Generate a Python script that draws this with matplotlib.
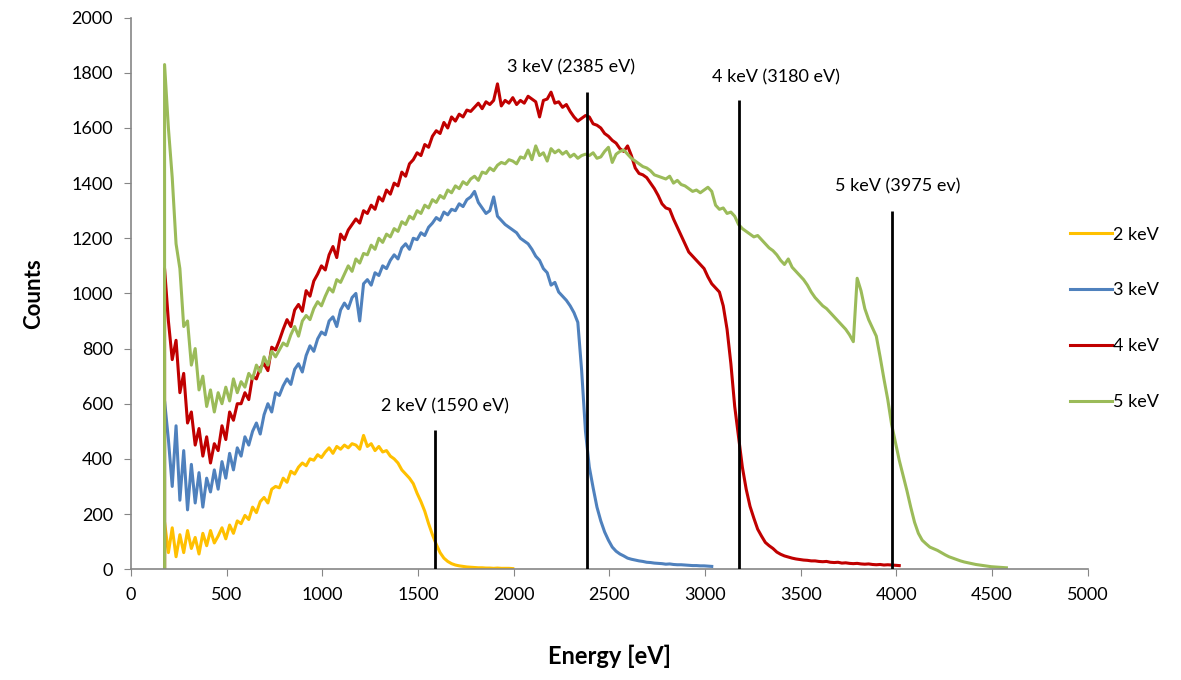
import numpy as np
import matplotlib
matplotlib.use("Agg")
import matplotlib.pyplot as plt

plt.rcParams["font.family"] = ["Lato", "DejaVu Sans"]

# ---------- Data (20 eV channels from 175 eV) ----------
STEP = 20
START = 175

counts_2kev = [
    170, 60, 150, 45, 125, 60, 140, 75, 115, 55,
    130, 85, 140, 95, 120, 150, 110, 160, 130, 175,
    165, 195, 180, 225, 205, 245, 260, 240, 290, 300,
    295, 330, 315, 355, 345, 370, 385, 375, 400, 395,
    415, 405, 425, 440, 420, 445, 435, 450, 440, 455,
    450, 435, 485, 445, 455, 430, 445, 425, 430, 410,
    400, 385, 360, 345, 330, 310, 275, 245, 210, 165,
    125, 90, 60, 40, 28, 20, 15, 12, 10, 8,
    7, 6, 5, 5, 4, 4, 3, 4, 3, 3,
    3, 2,
]

counts_3kev = [
    610, 470, 300, 520, 250, 430, 215, 380, 240, 350,
    225, 330, 280, 360, 290, 390, 330, 420, 360, 440,
    410, 480, 450, 500, 530, 490, 560, 600, 570, 640,
    630, 665, 690, 670, 725, 745, 715, 775, 810, 790,
    835, 860, 850, 900, 915, 880, 940, 965, 945, 985,
    1000, 900, 1035, 1050, 1030, 1075, 1065, 1100, 1090, 1120,
    1140, 1125, 1165, 1180, 1160, 1200, 1195, 1220, 1210, 1240,
    1255, 1275, 1265, 1295, 1285, 1305, 1300, 1325, 1315, 1340,
    1350, 1370, 1330, 1310, 1290, 1300, 1350, 1280, 1265, 1250,
    1240, 1230, 1220, 1200, 1190, 1180, 1160, 1135, 1120, 1090,
    1075, 1030, 1040, 1005, 990, 975, 955, 930, 895, 720,
    500, 370, 295, 225, 175, 135, 105, 80, 65, 55,
    48, 40, 36, 33, 30, 28, 25, 24, 22, 21,
    20, 18, 19, 17, 16, 16, 15, 14, 13, 13,
    12, 12, 11, 10,
]

counts_4kev = [
    1090, 900, 760, 830, 640, 710, 530, 570, 450, 510,
    410, 480, 385, 455, 430, 520, 470, 570, 540, 600,
    600, 640, 615, 700, 690, 730, 745, 720, 805, 795,
    830, 870, 905, 880, 940, 960, 935, 1010, 990, 1045,
    1070, 1100, 1085, 1140, 1170, 1130, 1215, 1195, 1230, 1250,
    1270, 1255, 1300, 1290, 1320, 1305, 1350, 1335, 1375, 1360,
    1400, 1390, 1440, 1425, 1470, 1485, 1510, 1500, 1540, 1530,
    1570, 1590, 1580, 1620, 1600, 1640, 1625, 1650, 1640, 1665,
    1660, 1675, 1690, 1670, 1695, 1685, 1700, 1760, 1680, 1700,
    1690, 1710, 1685, 1700, 1690, 1715, 1705, 1695, 1640, 1700,
    1705, 1730, 1690, 1695, 1675, 1685, 1660, 1640, 1625, 1635,
    1645, 1640, 1615, 1610, 1600, 1580, 1570, 1555, 1545, 1525,
    1515, 1535, 1500, 1455, 1435, 1430, 1420, 1400, 1380, 1355,
    1325, 1310, 1305, 1270, 1240, 1210, 1180, 1150, 1135, 1120,
    1105, 1090, 1060, 1035, 1020, 1005, 955, 870, 745, 590,
    480, 370, 290, 228, 185, 145, 120, 97, 85, 75,
    62, 54, 48, 44, 40, 37, 35, 33, 32, 30,
    30, 28, 27, 28, 25, 24, 25, 22, 23, 21,
    20, 21, 19, 18, 19, 17, 16, 17, 15, 16,
    15, 14, 13,
]

counts_5kev = [
    1830, 1600, 1420, 1180, 1090, 880, 900, 740, 800, 650,
    700, 590, 650, 570, 640, 600, 660, 610, 690, 640,
    680, 660, 710, 690, 740, 715, 770, 740, 790, 770,
    795, 820, 810, 850, 880, 845, 900, 920, 905, 945,
    970, 955, 990, 1020, 1005, 1050, 1040, 1070, 1100, 1080,
    1125, 1110, 1145, 1140, 1175, 1160, 1200, 1185, 1215, 1205,
    1235, 1225, 1260, 1250, 1280, 1270, 1300, 1290, 1320, 1310,
    1340, 1330, 1355, 1345, 1375, 1365, 1390, 1380, 1405, 1395,
    1415, 1425, 1410, 1440, 1435, 1455, 1445, 1465, 1475, 1470,
    1485, 1480, 1470, 1495, 1490, 1520, 1485, 1535, 1500, 1510,
    1480, 1525, 1510, 1520, 1505, 1515, 1495, 1505, 1490, 1500,
    1505, 1500, 1510, 1490, 1495, 1515, 1530, 1475, 1505, 1515,
    1520, 1505, 1490, 1480, 1470, 1460, 1455, 1445, 1430, 1425,
    1420, 1415, 1425, 1400, 1410, 1395, 1390, 1380, 1370, 1375,
    1365, 1375, 1385, 1370, 1320, 1305, 1310, 1290, 1295, 1280,
    1250, 1235, 1225, 1215, 1205, 1210, 1195, 1180, 1165, 1155,
    1140, 1120, 1105, 1125, 1095, 1080, 1065, 1050, 1030, 1005,
    985, 970, 955, 945, 930, 915, 900, 885, 870, 850,
    825, 1055, 1010, 945, 905, 875, 845, 770, 690, 615,
    525, 460, 395, 340, 285, 225, 170, 130, 105, 92,
    80, 74, 68, 60, 52, 45, 40, 35, 30, 26,
    23, 20, 17, 15, 13, 11, 9, 8, 7, 6,
    5,
]

SERIES = [
    ("2 keV", counts_2kev, "#FFC000"),
    ("3 keV", counts_3kev, "#4F81BD"),
    ("4 keV", counts_4kev, "#C00000"),
    ("5 keV", counts_5kev, "#9BBB59"),
]

# nominal edge markers: energy, line top (counts), label
MARK_E = [1590, 2385, 3180, 3975]
MARK_TOP = [505, 1730, 1700, 1300]
MARK_LABELS = ["2 keV (1590 eV)", "3 keV (2385 eV)", "4 keV (3180 eV)", "5 keV (3975 ev)"]
LABEL_X = [1640, 2300, 3370, 4005]
LABEL_Y = [590, 1820, 1785, 1390]

AXIS_GREY = "#868686"

# ---------- Figure ----------
fig = plt.figure(figsize=(11.81, 6.80), dpi=100)
ax = fig.add_axes([0.111, 0.163, 0.81, 0.811])

for name, vals, col in SERIES:
    # channel grid, with a leading zero at the first channel (vertical rise)
    e = np.r_[START, START + STEP * np.arange(len(vals))]
    c = np.r_[0, vals]
    ax.plot(e, c, color=col, lw=2.2, label=name, solid_joinstyle="round")

ax.vlines(MARK_E, 0, MARK_TOP, color="black", lw=2.0, zorder=5)
for x, y, s in zip(LABEL_X, LABEL_Y, MARK_LABELS):
    ax.text(x, y, s, ha="center", va="center", fontsize=13)

ax.set_xlim(0, 5000)
ax.set_ylim(0, 2000)
ax.set_xticks(np.arange(0, 5001, 500))
ax.set_yticks(np.arange(0, 2001, 200))
ax.tick_params(axis="both", direction="out", length=5, color=AXIS_GREY,
               labelsize=13, pad=8)
for side in ("top", "right"):
    ax.spines[side].set_visible(False)
for side in ("left", "bottom"):
    ax.spines[side].set_color(AXIS_GREY)
    ax.spines[side].set_linewidth(1.2)

ax.set_xlabel("Energy [eV]", fontsize=17, fontweight="bold", labelpad=30)
ax.set_ylabel("Counts", fontsize=16, fontweight="bold", labelpad=20)

fig.legend(loc="center left", bbox_to_anchor=(0.906, 0.532), frameon=False,
           fontsize=13, handlelength=2.3, handletextpad=0.1,
           labelspacing=2.2, borderpad=0, borderaxespad=0)

fig.savefig("out.png", dpi=100)
